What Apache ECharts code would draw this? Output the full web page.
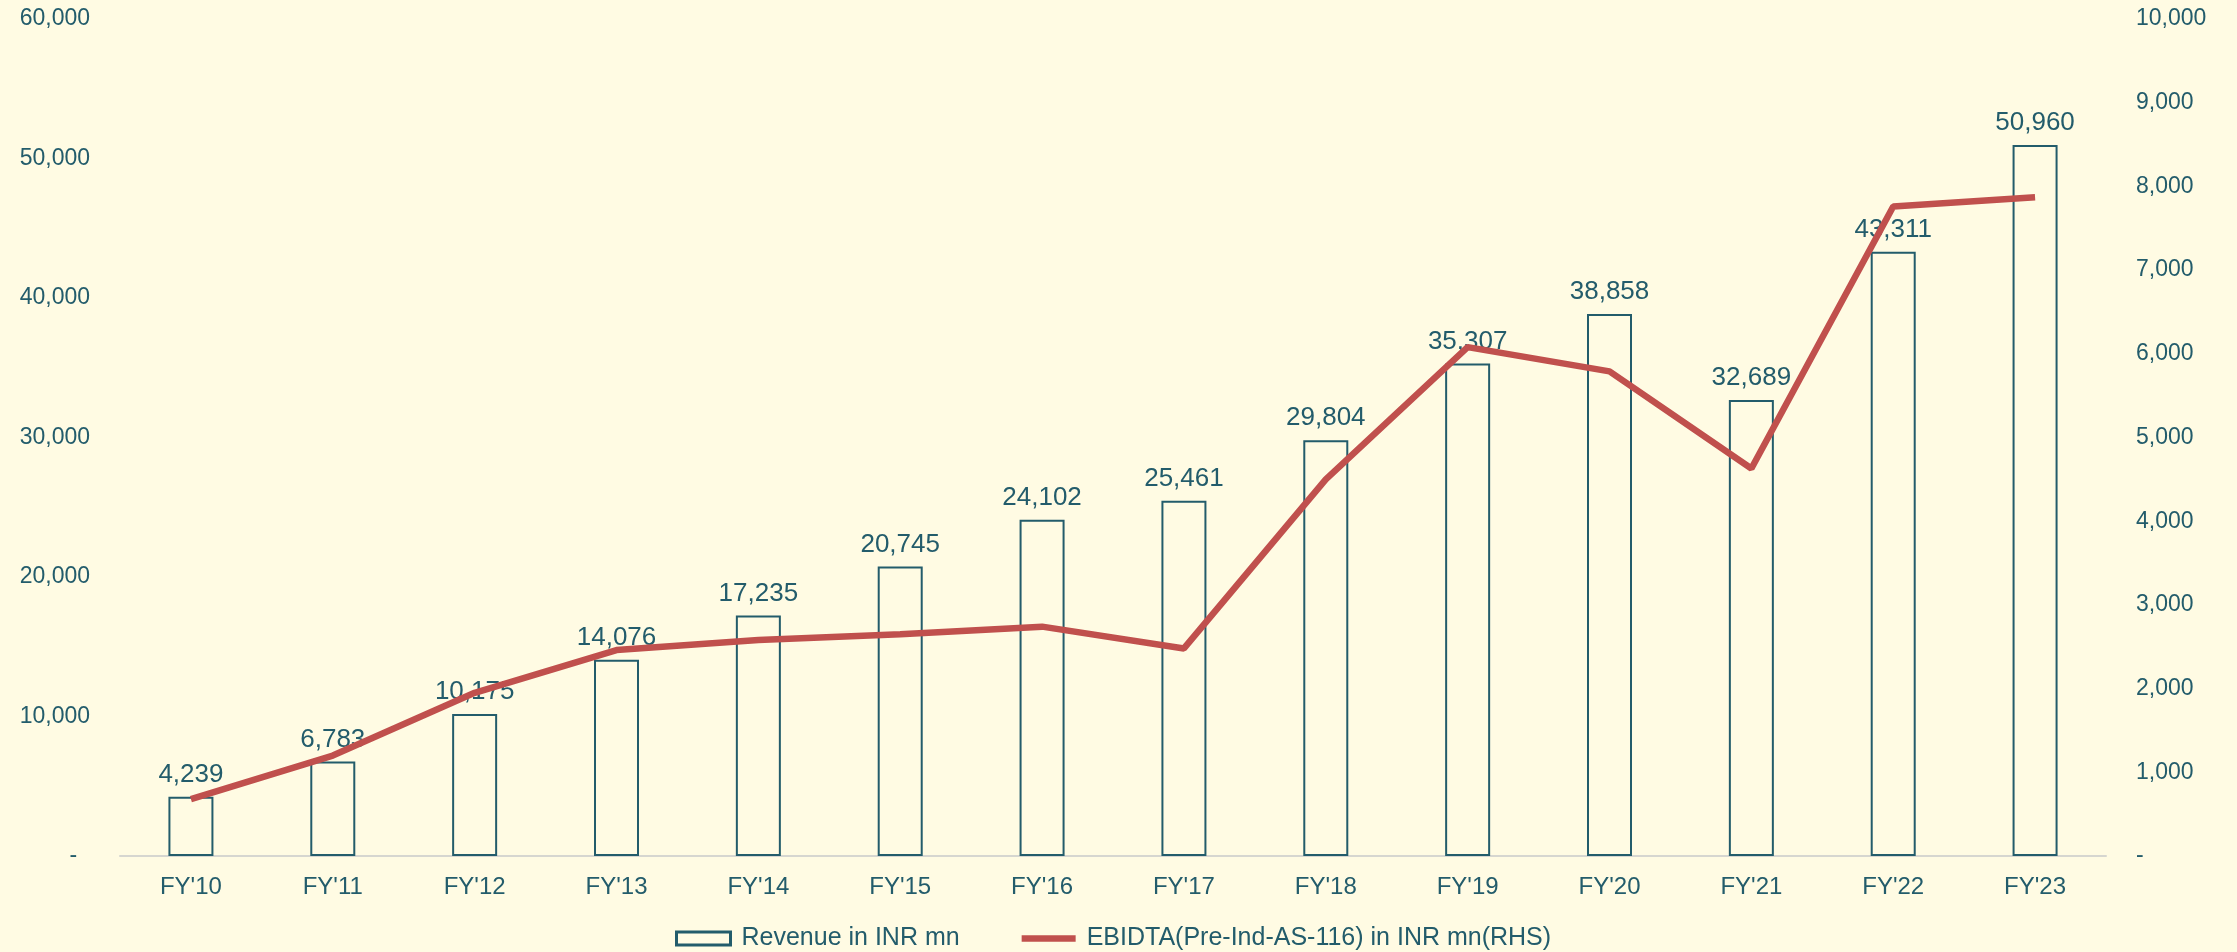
<!DOCTYPE html>
<html>
<head>
<meta charset="utf-8">
<script src="https://cdn.jsdelivr.net/npm/echarts@6/dist/echarts.min.js"></script>
<style>
  html, body { margin: 0; padding: 0; background: #FFFBE3; }
  #chart { width: 2237px; height: 952px; }
</style>
</head>
<body>
<div id="chart"></div>
<script>
var years = ["FY'10", "FY'11", "FY'12", "FY'13", "FY'14", "FY'15", "FY'16", "FY'17", "FY'18", "FY'19", "FY'20", "FY'21", "FY'22", "FY'23"];
var revenue = [4239, 6783, 10175, 14076, 17235, 20745, 24102, 25461, 29804, 35307, 38858, 32689, 43311, 50960];
var ebitda = [680, 1200, 1950, 2460, 2580, 2650, 2740, 2480, 4500, 6080, 5790, 4630, 7760, 7870];
var revName = 'Revenue in INR mn';
var ebitdaName = 'EBIDTA(Pre-Ind-AS-116) in INR mn(RHS)';

var teal = '#235C6B';
var red = '#C0504D';
var bg = '#FFFBE3';
var font = 'Liberation Sans';

function fmt(v) {
    return v.toLocaleString('en-US');
}

var chart = echarts.init(document.getElementById('chart'));
var option = {
    backgroundColor: bg,
    textStyle: { fontFamily: font, color: teal },
    grid: { left: 120, right: 131, top: 19, bottom: 96 },
    legend: {
        left: 1110 - 440,
        top: 921,
        itemWidth: 54,
        itemHeight: 13,
        itemGap: 62,
        textStyle: { fontFamily: font, fontSize: 25, color: teal, padding: [0, 0, 0, 6] },
        data: [
            { name: revName, icon: 'rect', itemStyle: { color: bg, borderColor: teal, borderWidth: 3 } },
            { name: ebitdaName, icon: 'path://M0,0L58,0L58,7L0,7Z', itemStyle: { color: red, borderWidth: 0 } }
        ]
    },
    xAxis: {
        type: 'category',
        data: years,
        axisTick: { show: false },
        axisLine: { lineStyle: { color: '#D6D6D0', width: 2 } },
        axisLabel: { fontFamily: font, fontSize: 24, color: teal, margin: 19 }
    },
    yAxis: [
        {
            type: 'value',
            min: 0, max: 60000, interval: 10000,
            splitLine: { show: false },
            axisLine: { show: false },
            axisTick: { show: false },
            axisLabel: {
                fontFamily: font, fontSize: 23, color: teal, margin: 30,
                formatter: function (v) { return v === 0 ? '-  ' : fmt(v); }
            }
        },
        {
            type: 'value',
            min: 0, max: 10000, interval: 1000,
            splitLine: { show: false },
            axisLine: { show: false },
            axisTick: { show: false },
            axisLabel: {
                fontFamily: font, fontSize: 23, color: teal, margin: 30,
                formatter: function (v) { return v === 0 ? '-' : fmt(v); }
            }
        }
    ],
    series: [
        {
            name: revName,
            type: 'bar',
            data: revenue,
            barWidth: 45,
            z: 2,
            itemStyle: { color: bg, borderColor: teal, borderWidth: 2 },
            label: {
                show: true,
                position: 'top',
                distance: 9,
                fontFamily: font,
                fontSize: 26,
                color: teal,
                formatter: function (p) { return fmt(p.value); }
            }
        },
        {
            name: ebitdaName,
            type: 'line',
            yAxisIndex: 1,
            data: ebitda,
            z: 5,
            symbol: 'none',
            lineStyle: { color: red, width: 6.5 },
            itemStyle: { color: red }
        }
    ]
};
chart.setOption(option);
</script>
</body>
</html>
